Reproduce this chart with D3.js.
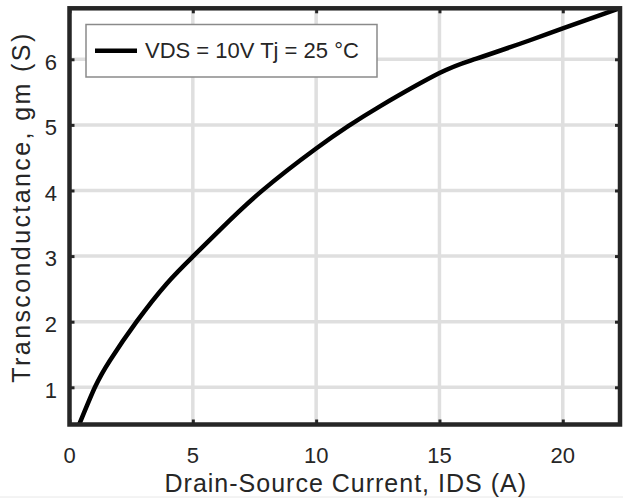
<!DOCTYPE html>
<html>
<head>
<meta charset="utf-8">
<script src="https://cdn.jsdelivr.net/npm/d3@7"></script>
<style>
  html, body { margin: 0; padding: 0; background: #fff; }
  svg { display: block; }
  text { font-family: "Liberation Sans", Arial, Helvetica, sans-serif; fill: #262626; }
</style>
</head>
<body>
<svg id="chart" width="623" height="500"></svg>
<script>
// ---- data ----
const idsValues = [0.39, 1.03, 1.64, 2.72, 3.94, 5.02, 6.1, 7.79, 10, 11.3, 12.62, 15, 16.5, 18.67, 20, 22.32];
const gmValues  = [0.43, 1.0, 1.41, 2.0, 2.58, 3.0, 3.4, 3.99, 4.64, 4.98, 5.29, 5.79, 6.01, 6.29, 6.47, 6.78];
const xTicks = [0, 5, 10, 15, 20];
const yTicks = [1, 2, 3, 4, 5, 6];
const xDomain = [0, 22.32];
const yDomain = [0.433, 6.777];
const legendLabel = "VDS = 10V Tj = 25 °C";
const xLabel = "Drain-Source Current, IDS (A)";
const yLabel = "Transconductance, gm (S)";

const svg = d3.select("#chart");
const m = { left: 69.5, right: 620, top: 8.3, bottom: 424.5 };

const x = d3.scaleLinear().domain(xDomain).range([m.left, m.right]);
const y = d3.scaleLinear().domain(yDomain).range([m.bottom, m.top]);

// faint frame line at bottom of image
svg.append("line").attr("x1", 0).attr("x2", 623).attr("y1", 497).attr("y2", 497)
  .attr("stroke", "#e8e8e8").attr("stroke-width", 1);

// grid
const grid = svg.append("g");
grid.selectAll(".gx").data(xTicks.filter(d => d > xDomain[0])).enter().append("line")
  .attr("x1", d => x(d)).attr("x2", d => x(d))
  .attr("y1", m.top).attr("y2", m.bottom)
  .attr("stroke", "#dfdfdf").attr("stroke-width", 3.5);
grid.selectAll(".gy").data(yTicks).enter().append("line")
  .attr("y1", d => y(d)).attr("y2", d => y(d))
  .attr("x1", m.left).attr("x2", m.right)
  .attr("stroke", "#dfdfdf").attr("stroke-width", 3.5);

// axes with inward ticks via d3 axis generators
const axisColor = "#262626";
function styleAxis(g) {
  g.select(".domain").remove();
  g.selectAll(".tick line").attr("stroke", axisColor).attr("stroke-width", 3);
  g.selectAll(".tick text").remove();
}
svg.append("g").attr("transform", `translate(0,${m.bottom})`)
  .call(d3.axisTop(x).tickValues(xTicks).tickSize(5)).call(styleAxis);
svg.append("g").attr("transform", `translate(0,${m.top})`)
  .call(d3.axisBottom(x).tickValues(xTicks).tickSize(5)).call(styleAxis);
svg.append("g").attr("transform", `translate(${m.left},0)`)
  .call(d3.axisRight(y).tickValues(yTicks).tickSize(5)).call(styleAxis);
svg.append("g").attr("transform", `translate(${m.right},0)`)
  .call(d3.axisLeft(y).tickValues(yTicks).tickSize(5)).call(styleAxis);

// tick labels
svg.selectAll(".xt").data(xTicks).enter().append("text")
  .attr("x", d => x(d)).attr("y", 462.5)
  .attr("text-anchor", "middle").attr("font-size", 22).text(d => d);
svg.selectAll(".yt").data(yTicks).enter().append("text")
  .attr("x", 57).attr("y", d => y(d) + 10.3)
  .attr("text-anchor", "end").attr("font-size", 22).text(d => d);

// curve
svg.append("clipPath").attr("id", "clip").append("rect")
  .attr("x", m.left).attr("y", m.top).attr("width", m.right - m.left).attr("height", m.bottom - m.top);
const line = d3.line().x(d => x(d[0])).y(d => y(d[1])).curve(d3.curveNatural);
svg.append("path")
  .datum(idsValues.map((v, i) => [v, gmValues[i]]))
  .attr("d", line)
  .attr("clip-path", "url(#clip)")
  .attr("fill", "none").attr("stroke", "#000").attr("stroke-width", 4.5)
  .attr("stroke-linejoin", "round");

// box
svg.append("rect")
  .attr("x", m.left).attr("y", m.top).attr("width", m.right - m.left).attr("height", m.bottom - m.top)
  .attr("fill", "none").attr("stroke", axisColor).attr("stroke-width", 4.5);

// legend
const lg = svg.append("g");
lg.append("rect").attr("x", 86).attr("y", 24.5).attr("width", 291).attr("height", 52.5)
  .attr("fill", "#fff").attr("stroke", "#8a8a8a").attr("stroke-width", 1.5);
lg.append("line").attr("x1", 95).attr("x2", 137).attr("y1", 50.7).attr("y2", 50.7)
  .attr("stroke", "#000").attr("stroke-width", 4.5);
lg.append("text").attr("x", 145).attr("y", 57.5).attr("font-size", 22).text(legendLabel);

// axis labels
svg.append("text").attr("x", (m.left + m.right) / 2 + 1).attr("y", 491.5)
  .attr("text-anchor", "middle").attr("font-size", 25).attr("letter-spacing", 1)
  .text(xLabel);
svg.append("text")
  .attr("transform", `translate(30,207) rotate(-90)`)
  .attr("text-anchor", "middle").attr("font-size", 25).attr("letter-spacing", 2.4)
  .text(yLabel);
</script>
</body>
</html>
